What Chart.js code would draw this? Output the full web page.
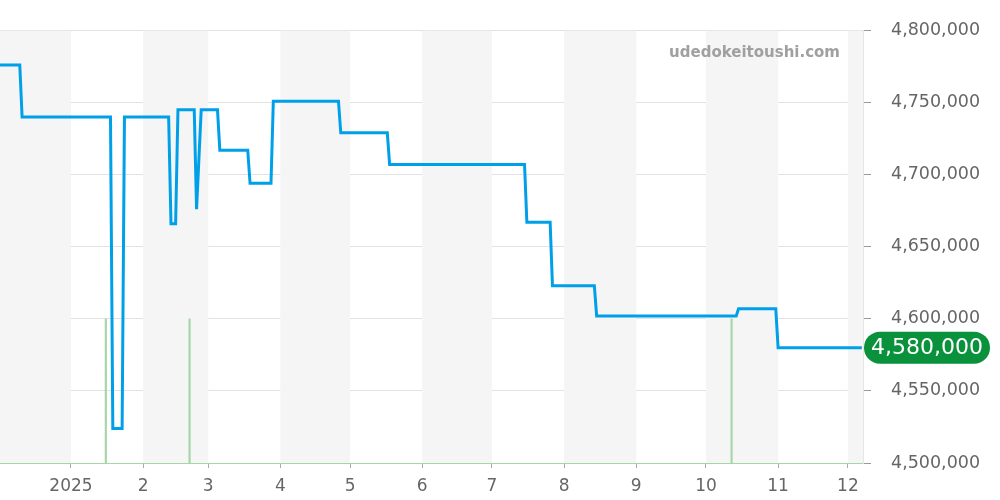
<!DOCTYPE html>
<html>
<head>
<meta charset="utf-8">
<script src="https://cdn.jsdelivr.net/npm/chart.js@4.4.1/dist/chart.umd.min.js"></script>
<style>
html, body { margin: 0; padding: 0; background: #fff; }
#wrap { width: 1000px; height: 500px; position: relative; }
</style>
</head>
<body>
<div id="wrap"><canvas id="priceChart"></canvas></div>
<script>
// price history (date where the price holds / changes)
var priceDates = [
	'2024-12-01', '2024-12-10', '2024-12-11', '2025-01-18', '2025-01-19', '2025-01-23',
	'2025-01-24', '2025-02-12', '2025-02-13', '2025-02-15', '2025-02-16', '2025-02-23',
	'2025-02-24', '2025-02-26', '2025-03-05', '2025-03-06', '2025-03-18', '2025-03-19',
	'2025-03-28', '2025-03-29', '2025-04-26', '2025-04-27', '2025-05-17', '2025-05-18',
	'2025-07-15', '2025-07-16', '2025-07-26', '2025-07-27', '2025-08-14', '2025-08-15',
	'2025-10-14', '2025-10-15', '2025-10-31', '2025-11-01', '2025-12-07'
];
var priceValues = [
	4776000, 4776000, 4740000, 4740000, 4524000, 4524000,
	4740000, 4740000, 4666000, 4666000, 4745000, 4745000,
	4676000, 4745000, 4745000, 4717000, 4717000, 4694000,
	4694000, 4751000, 4751000, 4729000, 4729000, 4707000,
	4707000, 4667000, 4667000, 4623000, 4623000, 4602000,
	4602000, 4607000, 4607000, 4580000, 4580000
];
var volumeDates = ['2025-01-16', '2025-02-21', '2025-10-12'];
var volumeValues = [1, 1, 1];
var monthStarts = [
	'2024-12-01', '2025-01-01', '2025-02-01', '2025-03-01', '2025-04-01', '2025-05-01', '2025-06-01',
	'2025-07-01', '2025-08-01', '2025-09-01', '2025-10-01', '2025-11-01', '2025-12-01', '2026-01-01'
];
var monthLabels = ['', '2025', '2', '3', '4', '5', '6', '7', '8', '9', '10', '11', '12', ''];
var lastPrice = 4580000;

var base = Date.UTC(2024, 11, 1);
function day_num(s) {
	var p = s.split('-');
	return (Date.UTC(+p[0], +p[1] - 1, +p[2]) - base) / 86400000;
}
function fmt(v) {
	return v.toString().replace(/\B(?=(\d{3})+(?!\d))/g, ',');
}

var priceData = priceDates.map(function (d, i) { return { x: day_num(d), y: priceValues[i] }; });
var volumeData = volumeDates.map(function (d, i) { return { x: day_num(d), y: volumeValues[i] }; });
var monthDays = monthStarts.map(day_num);

var bandsPlugin = {
	id: 'bands',
	beforeDatasetsDraw: function (chart) {
		var ctx = chart.ctx, area = chart.chartArea, xs = chart.scales.x;
		ctx.save();
		ctx.beginPath();
		ctx.rect(area.left, area.top, area.right - area.left, area.bottom - area.top);
		ctx.clip();
		ctx.fillStyle = '#f5f5f5';
		for (var i = 0; i < monthDays.length - 1; i += 2) {
			var x0 = xs.getPixelForValue(monthDays[i]);
			var x1 = xs.getPixelForValue(monthDays[i + 1]);
			ctx.fillRect(x0, area.top, x1 - x0, area.bottom - area.top);
		}
		ctx.restore();
	}
};

var extrasPlugin = {
	id: 'extras',
	afterDraw: function (chart) {
		var ctx = chart.ctx, area = chart.chartArea;
		ctx.save();
		ctx.font = 'bold 15px "DejaVu Sans"';
		ctx.fillStyle = '#a0a0a0';
		ctx.textAlign = 'right';
		ctx.textBaseline = 'middle';
		ctx.fillText('udedokeitoushi.com', area.right - 23, 53);

		var y = chart.scales.y.getPixelForValue(lastPrice);
		var x0 = area.right + 1, x1 = 990, h = 32, r = 16;
		ctx.fillStyle = '#0a913b';
		ctx.beginPath();
		ctx.moveTo(x0 + r, y - h / 2);
		ctx.lineTo(x1 - r, y - h / 2);
		ctx.arc(x1 - r, y, r, -Math.PI / 2, Math.PI / 2);
		ctx.lineTo(x0 + r, y + h / 2);
		ctx.arc(x0 + r, y, r, Math.PI / 2, Math.PI * 1.5);
		ctx.closePath();
		ctx.fill();
		ctx.fillStyle = '#fff';
		ctx.font = '22px "DejaVu Sans"';
		ctx.textAlign = 'center';
		ctx.fillText(fmt(lastPrice), (x0 + x1) / 2, y + 1);
		ctx.restore();
	}
};

Chart.defaults.font.family = '"DejaVu Sans", sans-serif';
Chart.defaults.color = '#666';

new Chart(document.getElementById('priceChart'), {
	data: {
		datasets: [{
			type: 'line',
			label: 'price',
			data: priceData,
			borderColor: '#00a0e9',
			borderWidth: 3,
			pointRadius: 0,
			tension: 0,
			yAxisID: 'y',
			order: 1
		}, {
			type: 'bar',
			label: 'volume',
			data: volumeData,
			backgroundColor: '#a5d6a7',
			barThickness: 1.5,
			yAxisID: 'yv',
			order: 2
		}]
	},
	options: {
		responsive: true,
		maintainAspectRatio: false,
		animation: false,
		layout: { padding: { top: 30, left: 0, right: 0, bottom: 0 } },
		plugins: { legend: { display: false }, tooltip: { enabled: false } },
		scales: {
			x: {
				type: 'linear',
				min: 0.5,
				max: 371.5,
				offset: false,
				grid: { offset: false, drawOnChartArea: false, drawTicks: true, tickLength: 5, color: '#aaa' },
				border: { display: true, color: '#a5d6a7', dash: [2, 1], width: 1 },
				afterBuildTicks: function (scale) {
					scale.ticks = monthDays.slice(1, 13).map(function (v) { return { value: v }; });
				},
				afterFit: function (scale) { scale.height = 37; },
				ticks: {
					autoSkip: false,
					maxRotation: 0,
					padding: 8,
					font: { size: 17 },
					color: '#666',
					callback: function (value) {
						var i = monthDays.indexOf(value);
						return i >= 0 ? monthLabels[i] : '';
					}
				}
			},
			y: {
				position: 'right',
				min: 4500000,
				max: 4800000,
				grid: { color: '#e2e2e2', tickLength: 8, tickColor: '#999' },
				border: { display: true, color: '#e6e6e6' },
				afterFit: function (scale) { scale.width = 137; },
				ticks: {
					stepSize: 50000,
					padding: 20,
					font: { size: 17.5 },
					color: '#666',
					callback: function (v) { return fmt(v); }
				}
			},
			yv: {
				display: false,
				min: 0,
				max: 3
			}
		}
	},
	plugins: [bandsPlugin, extrasPlugin]
});
</script>
</body>
</html>
